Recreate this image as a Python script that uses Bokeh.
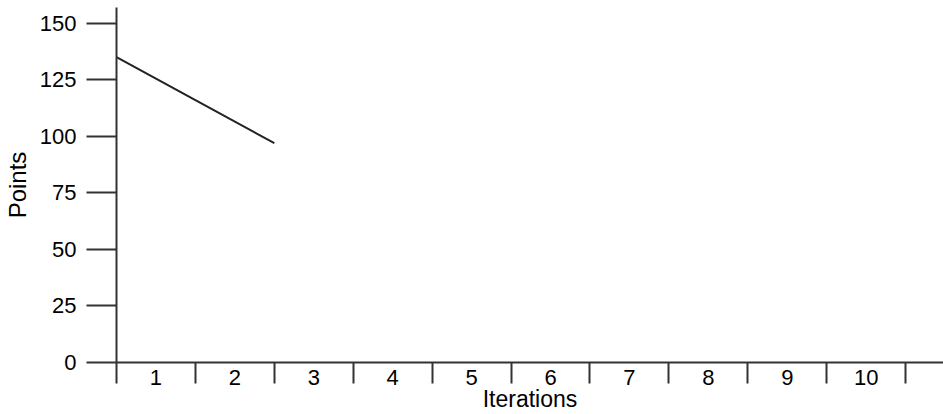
from bokeh.plotting import figure
from bokeh.models import Range1d, FixedTicker
from bokeh.embed import file_html
from bokeh.resources import INLINE

# ---- data ----
iterations = ["1", "2", "3", "4", "5", "6", "7", "8", "9", "10"]
completed_iterations = [0, 1, 2]          # iteration boundaries reached so far
remaining_points = [135, 116, 97]         # points remaining at each boundary
y_ticks = [0, 25, 50, 75, 100, 125, 150]
x_title = "Iterations"
y_title = "Points"

FONT = "Liberation Sans"
AXIS_COLOR = "#333333"

n = len(iterations)
p = figure(width=943, height=414, output_backend="svg", toolbar_location=None,
           x_range=Range1d(0, n + 0.48), y_range=Range1d(0, 157))
p.min_border_left = 115
p.min_border_right = 0
p.min_border_top = 7
p.min_border_bottom = 52
p.outline_line_color = None
p.xgrid.visible = False
p.ygrid.visible = False
p.background_fill_color = "white"
p.border_fill_color = "white"

p.line(completed_iterations, remaining_points, line_color="#222222", line_width=2)

# x axis: labels centred in each iteration, tick marks on the boundaries
centers = [i + 0.5 for i in range(n)]
xa = p.xaxis[0]
xa.ticker = FixedTicker(ticks=centers, minor_ticks=list(range(n + 1)))
xa.major_label_overrides = {c: lab for c, lab in zip(centers, iterations)}
xa.major_tick_out = 0
xa.major_tick_in = 0
xa.minor_tick_out = 21
xa.minor_tick_in = 0
xa.minor_tick_line_color = AXIS_COLOR
xa.minor_tick_line_width = 2
xa.axis_line_color = AXIS_COLOR
xa.axis_line_width = 2
xa.major_label_standoff = -14
xa.major_label_text_font = FONT
xa.major_label_text_font_size = "22px"
xa.major_label_text_color = "black"
xa.axis_label = x_title
xa.axis_label_text_font = FONT
xa.axis_label_text_font_size = "23px"
xa.axis_label_text_font_style = "normal"
xa.axis_label_text_color = "black"
xa.axis_label_standoff = -2

ya = p.yaxis[0]
ya.ticker = FixedTicker(ticks=y_ticks, minor_ticks=[])
ya.major_tick_out = 30
ya.major_tick_in = 0
ya.major_tick_line_color = AXIS_COLOR
ya.major_tick_line_width = 2
ya.minor_tick_line_color = None
ya.axis_line_color = AXIS_COLOR
ya.axis_line_width = 2
ya.major_label_standoff = 10
ya.major_label_text_font = FONT
ya.major_label_text_font_size = "22px"
ya.major_label_text_color = "black"
ya.axis_label = y_title
ya.axis_label_text_font = FONT
ya.axis_label_text_font_size = "24px"
ya.axis_label_text_font_style = "normal"
ya.axis_label_text_color = "black"
ya.axis_label_standoff = 6

open("out.html", "w").write(file_html(p, INLINE))
